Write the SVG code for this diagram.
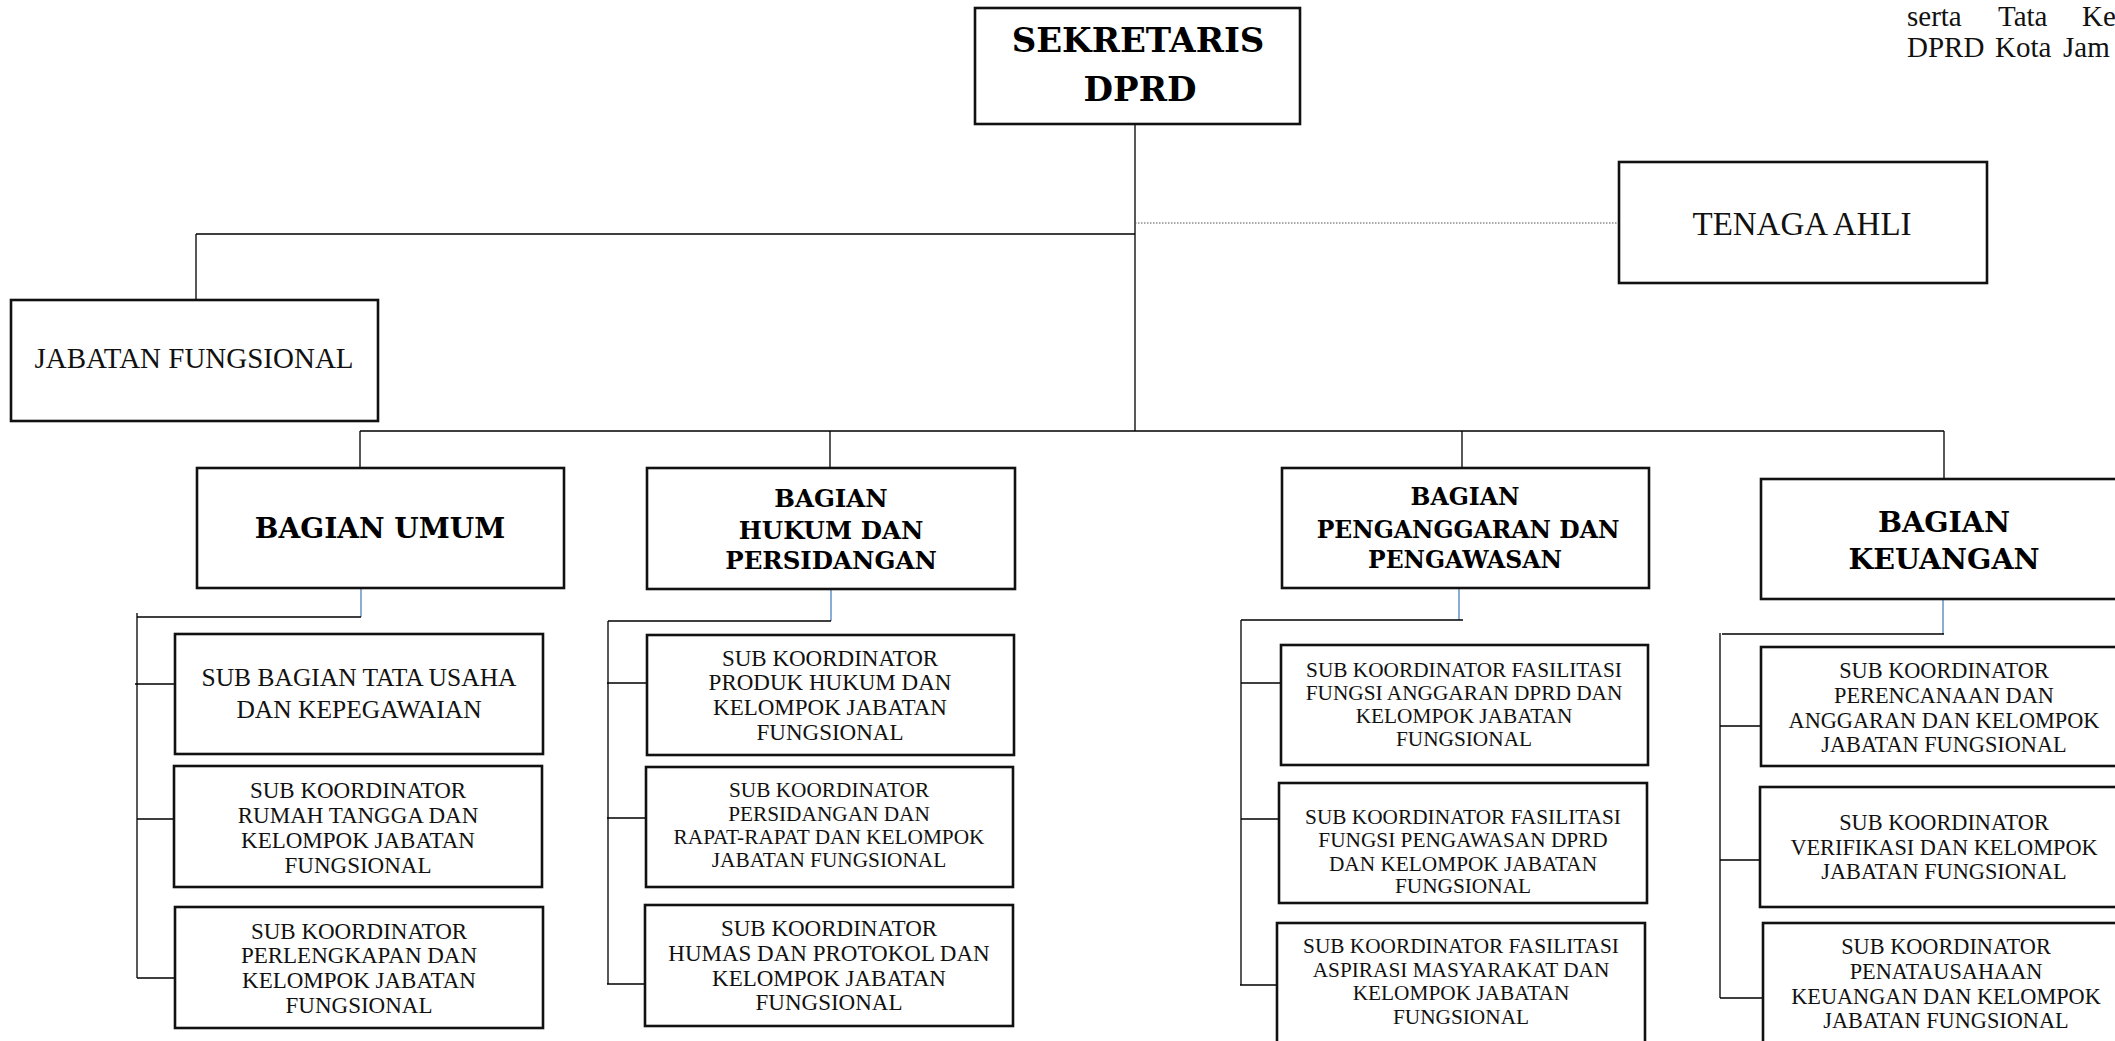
<svg xmlns="http://www.w3.org/2000/svg" width="2115" height="1041" viewBox="0 0 2115 1041">
<style>
.box{fill:#fff;stroke:#111;stroke-width:2.6}
.t{font-family:"Liberation Serif","Times New Roman",serif;fill:#111;text-anchor:middle}
.b{font-family:"DejaVu Serif","Liberation Serif",serif;font-weight:bold;fill:#000;text-anchor:middle}
.ln{stroke:#000;stroke-width:1.3;fill:none}
.bl{stroke:#4f81bd;stroke-width:1.3;fill:none}
.dot{stroke:#555;stroke-width:1.2;stroke-dasharray:1.5 1.5;fill:none}
.hdr{font-family:"Liberation Serif","Times New Roman",serif;fill:#111;font-size:29px}
</style>
<rect width="2115" height="1041" fill="#fff"/>
<text class="hdr" y="26"><tspan x="1907">serta</tspan><tspan x="1998">Tata</tspan><tspan x="2082">Ke</tspan></text>
<text class="hdr" y="57"><tspan x="1907">DPRD</tspan><tspan x="1995">Kota</tspan><tspan x="2063">Jam</tspan></text>
<g id="connectors">
<path class="ln" d="M1135 124V431M196 234H1135M196 234V300M360 431H1944M360 431V468M830 431V468M1462 431V468M1944 431V479"/>
<path class="dot" d="M1135 223H1619"/>
<path class="bl" d="M361 583V617M831 589V621M1459 588V620M1943 600V634"/>
<path class="ln" d="M137 617H361M137 613V978M135 684H175M137 819H175M137 978H175"/>
<path class="ln" d="M608 621H831M608 621V984M607 683H647M607 818H646M607 984H645"/>
<path class="ln" d="M1241 620H1463M1241 620V985M1241 683H1281M1241 819H1279M1240 985H1277"/>
<path class="ln" d="M1722 634H1944M1720 633V998M1720 726H1761M1720 860H1760M1720 998H1763"/>
</g>
<g id="sekretaris"><rect class="box" x="975" y="8" width="325" height="116"/>
<text class="b" font-size="34" x="1138" y="52">SEKRETARIS</text><text class="b" font-size="34" x="1140" y="101">DPRD</text></g>
<g id="tenaga-ahli"><rect class="box" x="1619" y="162" width="368" height="121"/>
<text class="t" font-size="33" x="1802" y="235">TENAGA AHLI</text></g>
<g id="jabatan-fungsional"><rect class="box" x="11" y="300" width="367" height="121"/>
<text class="t" font-size="29" x="194" y="368">JABATAN FUNGSIONAL</text></g>
<g id="bagian-umum"><rect class="box" x="197" y="468" width="367" height="120"/>
<text class="b" font-size="28" x="380" y="538">BAGIAN UMUM</text></g>
<g id="bagian-hukum"><rect class="box" x="647" y="468" width="368" height="121"/>
<text class="b" font-size="24.5" x="831" y="507">BAGIAN</text><text class="b" font-size="24.5" x="831" y="539">HUKUM DAN</text><text class="b" font-size="24.5" x="831" y="569">PERSIDANGAN</text></g>
<g id="bagian-penganggaran"><rect class="box" x="1282" y="468" width="367" height="120"/>
<text class="b" font-size="23.5" x="1465" y="505">BAGIAN</text><text class="b" font-size="23.5" x="1468" y="538">PENGANGGARAN DAN</text><text class="b" font-size="23.5" x="1465" y="568">PENGAWASAN</text></g>
<g id="bagian-keuangan"><rect class="box" x="1761" y="479" width="366" height="120"/>
<text class="b" font-size="28.5" x="1944" y="532">BAGIAN</text><text class="b" font-size="28.5" x="1944" y="569">KEUANGAN</text></g>
<g id="umum-1"><rect class="box" x="175" y="634" width="368" height="120"/>
<text class="t" font-size="25.5" x="359" y="686">SUB BAGIAN TATA USAHA</text><text class="t" font-size="25.5" x="359" y="718">DAN KEPEGAWAIAN</text></g>
<g id="umum-2"><rect class="box" x="174" y="766" width="368" height="121"/>
<text class="t" font-size="23"><tspan x="358" y="798">SUB KOORDINATOR</tspan><tspan x="358" y="823">RUMAH TANGGA DAN</tspan><tspan x="358" y="848">KELOMPOK JABATAN</tspan><tspan x="358" y="873">FUNGSIONAL</tspan></text></g>
<g id="umum-3"><rect class="box" x="175" y="907" width="368" height="121"/>
<text class="t" font-size="23"><tspan x="359" y="939">SUB KOORDINATOR</tspan><tspan x="359" y="963">PERLENGKAPAN DAN</tspan><tspan x="359" y="988">KELOMPOK JABATAN</tspan><tspan x="359" y="1013">FUNGSIONAL</tspan></text></g>
<g id="hukum-1"><rect class="box" x="647" y="635" width="367" height="120"/>
<text class="t" font-size="23"><tspan x="830" y="666">SUB KOORDINATOR</tspan><tspan x="830" y="690">PRODUK HUKUM DAN</tspan><tspan x="830" y="715">KELOMPOK JABATAN</tspan><tspan x="830" y="740">FUNGSIONAL</tspan></text></g>
<g id="hukum-2"><rect class="box" x="646" y="767" width="367" height="120"/>
<text class="t" font-size="21.3"><tspan x="829" y="797">SUB KOORDINATOR</tspan><tspan x="829" y="821">PERSIDANGAN DAN</tspan><tspan x="829" y="844">RAPAT-RAPAT DAN KELOMPOK</tspan><tspan x="829" y="867">JABATAN FUNGSIONAL</tspan></text></g>
<g id="hukum-3"><rect class="box" x="645" y="905" width="368" height="121"/>
<text class="t" font-size="23"><tspan x="829" y="936">SUB KOORDINATOR</tspan><tspan x="829" y="961">HUMAS DAN PROTOKOL DAN</tspan><tspan x="829" y="986">KELOMPOK JABATAN</tspan><tspan x="829" y="1010">FUNGSIONAL</tspan></text></g>
<g id="penganggaran-1"><rect class="box" x="1281" y="645" width="367" height="120"/>
<text class="t" font-size="21.3"><tspan x="1464" y="677">SUB KOORDINATOR FASILITASI</tspan><tspan x="1464" y="700">FUNGSI ANGGARAN DPRD DAN</tspan><tspan x="1464" y="723">KELOMPOK JABATAN</tspan><tspan x="1464" y="746">FUNGSIONAL</tspan></text></g>
<g id="penganggaran-2"><rect class="box" x="1279" y="783" width="368" height="120"/>
<text class="t" font-size="21.3"><tspan x="1463" y="824">SUB KOORDINATOR FASILITASI</tspan><tspan x="1463" y="847">FUNGSI PENGAWASAN DPRD</tspan><tspan x="1463" y="871">DAN KELOMPOK JABATAN</tspan><tspan x="1463" y="893">FUNGSIONAL</tspan></text></g>
<g id="penganggaran-3"><rect class="box" x="1277" y="923" width="368" height="125"/>
<text class="t" font-size="21.3"><tspan x="1461" y="953">SUB KOORDINATOR FASILITASI</tspan><tspan x="1461" y="977">ASPIRASI MASYARAKAT DAN</tspan><tspan x="1461" y="1000">KELOMPOK JABATAN</tspan><tspan x="1461" y="1024">FUNGSIONAL</tspan></text></g>
<g id="keuangan-1"><rect class="box" x="1761" y="647" width="366" height="119"/>
<text class="t" font-size="22.3"><tspan x="1944" y="678">SUB KOORDINATOR</tspan><tspan x="1944" y="703">PERENCANAAN DAN</tspan><tspan x="1944" y="728">ANGGARAN DAN KELOMPOK</tspan><tspan x="1944" y="752">JABATAN FUNGSIONAL</tspan></text></g>
<g id="keuangan-2"><rect class="box" x="1760" y="787" width="367" height="120"/>
<text class="t" font-size="22.3"><tspan x="1944" y="830">SUB KOORDINATOR</tspan><tspan x="1944" y="855">VERIFIKASI DAN KELOMPOK</tspan><tspan x="1944" y="879">JABATAN FUNGSIONAL</tspan></text></g>
<g id="keuangan-3"><rect class="box" x="1763" y="923" width="366" height="125"/>
<text class="t" font-size="22.3"><tspan x="1946" y="954">SUB KOORDINATOR</tspan><tspan x="1946" y="979">PENATAUSAHAAN</tspan><tspan x="1946" y="1004">KEUANGAN DAN KELOMPOK</tspan><tspan x="1946" y="1028">JABATAN FUNGSIONAL</tspan></text></g>
</svg>
